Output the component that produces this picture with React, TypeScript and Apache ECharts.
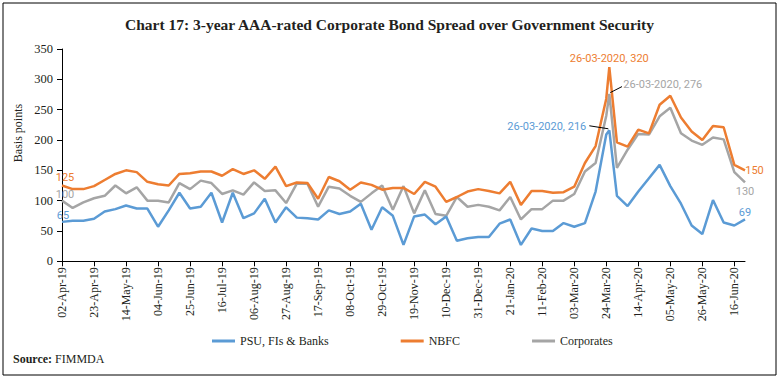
import { useEffect, useRef } from 'react';
import * as echarts from 'echarts';

const startDate = '2019-04-02';

const dates = [
  '2019-04-02', '2019-04-09', '2019-04-16', '2019-04-23', '2019-04-30', '2019-05-07', '2019-05-14', '2019-05-21', '2019-05-28', '2019-06-04',
  '2019-06-11', '2019-06-18', '2019-06-25', '2019-07-02', '2019-07-09', '2019-07-16', '2019-07-23', '2019-07-30', '2019-08-06', '2019-08-13',
  '2019-08-20', '2019-08-27', '2019-09-03', '2019-09-10', '2019-09-17', '2019-09-24', '2019-10-01', '2019-10-08', '2019-10-15', '2019-10-22',
  '2019-10-29', '2019-11-05', '2019-11-12', '2019-11-19', '2019-11-26', '2019-12-03', '2019-12-10', '2019-12-17', '2019-12-24', '2019-12-31',
  '2020-01-07', '2020-01-14', '2020-01-21', '2020-01-28', '2020-02-04', '2020-02-11', '2020-02-18', '2020-02-25', '2020-03-03', '2020-03-10',
  '2020-03-17', '2020-03-24', '2020-03-26',
  '2020-03-31', '2020-04-07', '2020-04-14', '2020-04-21', '2020-04-28', '2020-05-05', '2020-05-12', '2020-05-19', '2020-05-26', '2020-06-02',
  '2020-06-09', '2020-06-16', '2020-06-23',
];

const psu = [
  65, 67, 67, 70, 82, 86, 92, 87, 87, 57,
  84, 113, 87, 90, 113, 64, 113, 71, 79, 103,
  64, 89, 72, 71, 69, 84, 78, 82, 95, 52,
  89, 75, 27, 74, 77, 61, 74, 34, 38, 40,
  40, 62, 69, 27, 54, 50, 50, 63, 57, 63,
  115, 209, 216,
  108, 91, 115, 137, 159, 124, 95, 59, 45, 101,
  64, 59, 69,
];

const nbfc = [
  125, 119, 119, 124, 134, 144, 150, 147, 131, 127,
  125, 144, 145, 148, 148, 141, 152, 144, 150, 136,
  156, 124, 130, 129, 103, 139, 132, 118, 130, 126,
  118, 121, 121, 111, 131, 123, 98, 106, 115, 119,
  116, 112, 131, 93, 116, 116, 113, 114, 123, 162,
  190, 268, 320,
  196, 189, 217, 211, 258, 273, 237, 214, 200, 223,
  221, 159, 150,
];

const corporates = [
  100, 88, 97, 104, 108, 125, 112, 122, 100, 100,
  97, 129, 119, 133, 129, 111, 117, 110, 130, 116,
  117, 96, 128, 128, 90, 123, 120, 108, 98, 112,
  125, 85, 124, 79, 117, 78, 75, 106, 90, 93,
  90, 84, 106, 69, 86, 86, 100, 100, 111, 148,
  162, 240, 276,
  154, 184, 210, 209, 239, 253, 211, 199, 192, 204,
  201, 147, 130,
];

const tickLabels = [
  '02-Apr-19', '23-Apr-19', '14-May-19', '04-Jun-19', '25-Jun-19', '16-Jul-19', '06-Aug-19', '27-Aug-19',
  '17-Sep-19', '08-Oct-19', '29-Oct-19', '19-Nov-19', '10-Dec-19', '31-Dec-19', '21-Jan-20', '11-Feb-20',
  '03-Mar-20', '24-Mar-20', '14-Apr-20', '05-May-20', '26-May-20', '16-Jun-20',
];

const seriesNames = ['PSU, FIs & Banks', 'NBFC', 'Corporates'];
const seriesColors = ['#5B9BD5', '#ED7D31', '#A5A5A5'];

const TICK_STEP_DAYS = 21;
const X_MAX_DAYS = 448;

const dayOf = (d: string) => Math.round((Date.parse(d) - Date.parse(startDate)) / 86400000);
const xs = dates.map(dayOf);
const fmtDate = (d: string) => {
  const [y, m, dd] = d.split('-');
  return `${dd}-${m}-${y}`;
};

const SERIF = '"Liberation Serif", "DejaVu Serif", serif';
const SANS = 'Roboto, "Liberation Sans", sans-serif';

type Ann = { which: 'first' | 'peak' | 'last'; offset: [number, number]; align: string; withDate?: boolean };

const annotations: Ann[][] = [
  [
    { which: 'first', offset: [1, -6], align: 'center' },
    { which: 'peak', offset: [-23, -3.5], align: 'right', withDate: true },
    { which: 'last', offset: [0, -6.5], align: 'center' },
  ],
  [
    { which: 'first', offset: [3, -8], align: 'center' },
    { which: 'peak', offset: [0, -9], align: 'center', withDate: true },
    { which: 'last', offset: [9.5, 0.5], align: 'center' },
  ],
  [
    { which: 'first', offset: [3, -6], align: 'center' },
    { which: 'peak', offset: [14, -9], align: 'left', withDate: true },
    { which: 'last', offset: [0, 9.5], align: 'center' },
  ],
];

export default function App() {
  const ref = useRef<HTMLDivElement>(null);

  useEffect(() => {
    const chart = echarts.init(ref.current!, null, { renderer: 'svg' });
    const all = [psu, nbfc, corporates];
    const tickDays = tickLabels.map((_, i) => i * TICK_STEP_DAYS);

    const idxOf = (vals: number[], which: string) => {
      if (which === 'first') return 0;
      if (which === 'last') return vals.length - 1;
      let m = 0;
      vals.forEach((v, i) => { if (v > vals[m]) m = i; });
      return m;
    };

    const series = all.map((vals, s) => ({
      name: seriesNames[s],
      type: 'line',
      data: vals.map((v, i) => [xs[i], v]),
      symbol: 'none',
      color: seriesColors[s],
      lineStyle: { color: seriesColors[s], width: 2.5 },
      itemStyle: { color: seriesColors[s] },
      z: s === 0 ? 4 : s === 1 ? 3 : 2,
      markPoint: {
        symbol: 'circle',
        symbolSize: 1,
        itemStyle: { color: 'rgba(0,0,0,0)' },
        data: annotations[s].map((a) => {
          const i = idxOf(vals, a.which);
          return {
            coord: [xs[i], vals[i]],
            label: {
              show: true,
              position: 'inside',
              offset: a.offset,
              align: a.align,
              verticalAlign: 'middle',
              formatter: a.withDate ? `${fmtDate(dates[i])}, ${vals[i]}` : `${vals[i]}`,
              color: seriesColors[s],
              fontFamily: SANS,
              fontSize: 11,
            },
          };
        }),
      },
    }));

    chart.setOption({
      animation: false,
      backgroundColor: '#fff',
      title: {
        text: 'Chart 17: 3-year AAA-rated Corporate Bond Spread over Government Security',
        left: 'center',
        top: 11,
        textStyle: { fontFamily: SERIF, fontSize: 15.5, fontWeight: 'bold', color: '#231f20' },
      },
      grid: { left: 62, right: 34, top: 49, bottom: 116.7, containLabel: false },
      xAxis: {
        type: 'value',
        min: 0,
        max: X_MAX_DAYS,
        axisLine: { show: true, onZero: false, lineStyle: { color: '#000', width: 1 } },
        axisTick: { show: true, length: 5, customValues: tickDays, lineStyle: { color: '#000' } },
        axisLabel: {
          customValues: tickDays,
          rotate: 90,
          margin: 6,
          fontFamily: SERIF,
          fontSize: 12,
          color: '#231f20',
          formatter: (v: number) => {
            const k = Math.round(v / TICK_STEP_DAYS);
            return Math.abs(v - k * TICK_STEP_DAYS) < 0.01 && tickLabels[k] ? tickLabels[k] : '';
          },
        },
        splitLine: { show: false },
      },
      yAxis: {
        type: 'value',
        min: 0,
        max: 350,
        interval: 50,
        axisLine: { show: true, lineStyle: { color: '#000', width: 1 } },
        axisTick: { show: true, length: 5, lineStyle: { color: '#000' } },
        axisLabel: { fontFamily: SERIF, fontSize: 12.5, color: '#231f20', margin: 9 },
        splitLine: { show: false },
      },
      legend: {
        left: 207,
        top: 330,
        icon: 'rect',
        itemWidth: 23,
        itemHeight: 3,
        itemGap: 72,
        textStyle: { fontFamily: SERIF, fontSize: 12, color: '#231f20' },
        data: seriesNames,
      },
      series,
      graphic: [
        {
          id: 'border',
          type: 'rect',
          shape: { x: 3, y: 3, width: 773, height: 372 },
          style: { fill: 'none', stroke: '#000', lineWidth: 1 },
          silent: true,
        },
        {
          id: 'yname',
          type: 'text',
          x: 18,
          y: 133,
          rotation: Math.PI / 2,
          style: { text: 'Basis points', font: `12px ${SERIF}`, fill: '#231f20', align: 'center', verticalAlign: 'middle' },
        },
        {
          id: 'source',
          type: 'text',
          x: 13,
          y: 359,
          style: {
            text: '{b|Source:} FIMMDA',
            font: `12px ${SERIF}`,
            fill: '#231f20',
            verticalAlign: 'middle',
            rich: { b: { fontWeight: 'bold', fontFamily: SERIF, fontSize: 12, fill: '#231f20' } },
          },
        },
      ],
    });

    // leader lines for peak callouts (gray and blue), anchored on the data peak
    const pk = (vals: number[]) => {
      const i = idxOf(vals, 'peak');
      return chart.convertToPixel({ gridIndex: 0 }, [xs[i], vals[i]]) as number[];
    };
    const g = pk(corporates);
    const b = pk(psu);
    chart.setOption({
      graphic: [
        {
          id: 'leaderGray',
          type: 'line',
          shape: { x1: g[0] + 1, y1: g[1] - 1.3, x2: g[0] + 12.7, y2: g[1] - 7.3 },
          style: { stroke: '#000', lineWidth: 1 },
          z: 10,
        },
        {
          id: 'leaderBlue',
          type: 'line',
          shape: { x1: b[0] - 1, y1: b[1] - 1.5, x2: b[0] - 20, y2: b[1] - 4.5 },
          style: { stroke: '#000', lineWidth: 1 },
          z: 10,
        },
      ],
    });

    return () => chart.dispose();
  }, []);

  return (
    <div
      ref={ref}
      style={{ position: 'fixed', left: 0, top: 0, width: 779, height: 378, background: '#fff' }}
    />
  );
}
